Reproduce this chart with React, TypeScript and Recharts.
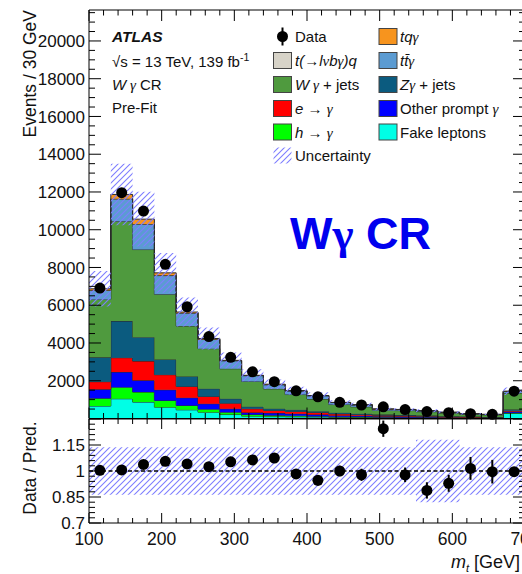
import React from 'react';
import { ComposedChart, Area, Scatter, XAxis, YAxis, ErrorBar, ReferenceLine } from 'recharts';

// bin edges of m_t [GeV], 30 GeV wide, last bin includes overflow
const binEdges = [100, 130, 160, 190, 220, 250, 280, 310, 340, 370, 400, 430, 460, 490, 520, 550, 580, 610, 640, 670, 700];

// pre-fit predictions per bin (events / 30 GeV), bottom of stack first
const fakeLeptons = [660, 1045, 870, 600, 460, 335, 210, 125, 100, 90, 80, 60, 50, 40, 35, 30, 25, 20, 18, 270];
const hToGamma = [410, 615, 530, 355, 230, 160, 125, 85, 70, 50, 40, 35, 30, 25, 20, 20, 15, 12, 10, 25];
const otherPrompt = [475, 800, 620, 565, 410, 285, 180, 110, 120, 110, 90, 70, 60, 50, 45, 35, 30, 25, 20, 60];
const eToGamma = [405, 760, 1020, 800, 600, 390, 295, 195, 140, 125, 110, 80, 65, 55, 45, 40, 30, 25, 20, 50];
const zGammaJets = [1290, 1940, 1270, 810, 530, 405, 235, 110, 90, 85, 70, 60, 45, 40, 35, 30, 25, 20, 18, 70];
const wGammaJets = [3070, 5290, 4640, 3450, 2670, 2125, 1590, 1335, 1050, 810, 640, 435, 370, 220, 240, 205, 165, 123, 109, 875];
const ttGamma = [480, 1170, 1340, 990, 680, 490, 425, 310, 220, 190, 175, 105, 100, 65, 55, 45, 35, 25, 20, 80];
const tLvbgQ = [10, 20, 20, 15, 10, 8, 5, 4, 3, 3, 2, 2, 2, 1, 1, 1, 1, 1, 1, 3];
const tqGamma = [70, 230, 250, 130, 50, 40, 15, 15, 25, 17, 12, 8, 8, 4, 4, 4, 4, 2, 2, 15];

const dataEvents = [6910, 11960, 10990, 8170, 5920, 4340, 3240, 2470, 1950, 1465, 1150, 855, 715, 620, 475, 365, 305, 255, 220, 1445];
const ratioValues = [1.004, 1.006, 1.038, 1.056, 1.041, 1.025, 1.053, 1.064, 1.075, 0.983, 0.946, 1.0, 0.978, 1.244, 0.978, 0.888, 0.929, 1.015, 0.996, 0.996];
const ratioErrors = [0.012, 0.01, 0.01, 0.012, 0.014, 0.016, 0.018, 0.021, 0.024, 0.027, 0.03, 0.03, 0.035, 0.047, 0.042, 0.047, 0.049, 0.066, 0.068, 0.027];
const relUncertainty = [0.137, 0.137, 0.137, 0.137, 0.137, 0.137, 0.137, 0.137, 0.137, 0.137, 0.137, 0.137, 0.137, 0.137, 0.137, 0.18, 0.18, 0.137, 0.137, 0.137];

const CHART_W = 560;
const PLOT_LEFT = 89;
const PLOT_W = 436;
const Y_AXIS_W = 60;
const MAIN_H = 420;
const MAIN_TOP = 10;
const MAIN_PLOT_H = 408.5;
const RATIO_H = 155;
const RATIO_PLOT_H = 104;
const Y_MAX = 21640;

const xTicks: number[] = [];
for (let v = 100; v <= 700; v += 20) xTicks.push(v);
const yTicks: number[] = [];
for (let v = 0; v <= 21500; v += 500) yTicks.push(v);
const ratioTicks: number[] = [];
for (let i = 0; i <= 20; i++) ratioTicks.push(Number((0.7 + i * 0.03).toFixed(2)));

const nBins = binEdges.length - 1;
const stackRows = binEdges.map((edge, i) => {
  const b = Math.min(i, nBins - 1);
  const total =
    fakeLeptons[b] + hToGamma[b] + otherPrompt[b] + eToGamma[b] + zGammaJets[b] +
    wGammaJets[b] + ttGamma[b] + tLvbgQ[b] + tqGamma[b];
  const u = relUncertainty[b];
  return {
    x: edge,
    fake: fakeLeptons[b],
    hgam: hToGamma[b],
    other: otherPrompt[b],
    egam: eToGamma[b],
    zgam: zGammaJets[b],
    wgam: wGammaJets[b],
    ttgam: ttGamma[b],
    tlvbgq: tLvbgQ[b],
    tqgam: tqGamma[b],
    band: [total * (1 - u), total * (1 + u)],
    ratioBand: [1 - u, 1 + u],
  };
});

const dataPoints = dataEvents.map((v, i) => ({ x: (binEdges[i] + binEdges[i + 1]) / 2, y: v }));
const ratioPoints = ratioValues.map((r, i) => ({ x: (binEdges[i] + binEdges[i + 1]) / 2, y: r, err: ratioErrors[i] }));

const stack = [
  { key: 'fake', color: '#00ffe6' },
  { key: 'hgam', color: '#00ff00' },
  { key: 'other', color: '#0000ff' },
  { key: 'egam', color: '#ff0000' },
  { key: 'zgam', color: '#0b5b7f' },
  { key: 'wgam', color: '#4f9a3e' },
  { key: 'ttgam', color: '#5b9bd2' },
  { key: 'tlvbgq', color: '#d7d3c8' },
  { key: 'tqgam', color: '#f7941e' },
];

const FONT = '"Liberation Sans", Arial, sans-serif';
const GREEK = '"Liberation Serif", "DejaVu Serif", serif';

const hatch = (id: string) => (
  <pattern id={id} patternUnits="userSpaceOnUse" width={6} height={6}>
    <path d="M0,6 L6,0 M-1,1 L1,-1 M5,7 L7,5" stroke="#7d7dff" strokeWidth={1.1} />
  </pattern>
);

const DataDot = (props: any) => <circle cx={props.cx} cy={props.cy} r={5.5} fill="#000" />;

const MainXTick = (props: any) => {
  const { x, y, payload } = props;
  const len = payload.value % 100 === 0 ? 11 : 5.5;
  const top = y - MAIN_PLOT_H;
  return (
    <g>
      <line x1={x} x2={x} y1={y} y2={y - len} stroke="#000" />
      <line x1={x} x2={x} y1={top} y2={top + len} stroke="#000" />
    </g>
  );
};

const MainYTick = (props: any) => {
  const { x, y, payload } = props;
  const v = payload.value;
  const major = v % 2000 === 0;
  const len = major ? 12 : 6;
  const right = x + PLOT_W;
  return (
    <g>
      <line x1={x} x2={x + len} y1={y} y2={y} stroke="#000" />
      <line x1={right - len} x2={right} y1={y} y2={y} stroke="#000" />
      {major && v > 0 && (
        <text x={x - 4} y={y} dy="0.36em" textAnchor="end" fontSize={17} fontFamily={FONT} fill="#111">
          {v}
        </text>
      )}
    </g>
  );
};

const RatioXTick = (props: any) => {
  const { x, y, payload } = props;
  const major = payload.value % 100 === 0;
  const len = major ? 10 : 5;
  const top = y - RATIO_PLOT_H;
  return (
    <g>
      <line x1={x} x2={x} y1={y} y2={y - len} stroke="#000" />
      <line x1={x} x2={x} y1={top} y2={top + len} stroke="#000" />
      {major && (
        <text x={x} y={y + 22} textAnchor="middle" fontSize={17.5} fontFamily={FONT} fill="#111">
          {payload.value}
        </text>
      )}
    </g>
  );
};

const RatioYTick = (props: any) => {
  const { x, y, payload } = props;
  const v = payload.value;
  const steps = (v - 0.7) / 0.15;
  const major = Math.abs(steps - Math.round(steps)) < 1e-6;
  const len = major ? 12 : 6;
  const right = x + PLOT_W;
  return (
    <g>
      <line x1={x} x2={x + len} y1={y} y2={y} stroke="#000" />
      <line x1={right - len} x2={right} y1={y} y2={y} stroke="#000" />
      {major && v < 1.29 && (
        <text x={x - 4} y={y} dy="0.36em" textAnchor="end" fontSize={17} fontFamily={FONT} fill="#111">
          {Number(v.toFixed(2)).toString()}
        </text>
      )}
    </g>
  );
};

const legendRows = [42, 66, 90, 114, 137.5, 161];
const it = { fontStyle: 'italic' as const };
const gr = { fontStyle: 'italic' as const, fontFamily: GREEK };

const legendLeft: { label: React.ReactNode; color?: string; kind?: string }[] = [
  { label: 'Data', kind: 'data' },
  { label: <><tspan style={it}>t(→l</tspan><tspan style={gr}>ν</tspan><tspan style={it}>b</tspan><tspan style={gr}>γ</tspan><tspan style={it}>)q</tspan></>, color: '#d7d3c8' },
  { label: <><tspan style={it}>W</tspan><tspan style={gr}> γ</tspan> + jets</>, color: '#4f9a3e' },
  { label: <><tspan style={it}>e</tspan> → <tspan style={gr}>γ</tspan></>, color: '#ff0000' },
  { label: <><tspan style={it}>h</tspan> → <tspan style={gr}>γ</tspan></>, color: '#00ff00' },
  { label: 'Uncertainty', kind: 'hatch' },
];

const legendRight: { label: React.ReactNode; color: string }[] = [
  { label: <><tspan style={it}>tq</tspan><tspan style={gr}>γ</tspan></>, color: '#f7941e' },
  { label: <><tspan style={it}>tt̄</tspan><tspan style={gr}>γ</tspan></>, color: '#5b9bd2' },
  { label: <><tspan style={it}>Z</tspan><tspan style={gr}>γ</tspan> + jets</>, color: '#0b5b7f' },
  { label: <>Other prompt <tspan style={gr}>γ</tspan></>, color: '#0000ff' },
  { label: 'Fake leptons', color: '#00ffe6' },
];

function Overlay() {
  return (
    <svg width={522} height={574} style={{ position: 'absolute', left: 0, top: 0, pointerEvents: 'none' }} fontFamily={FONT}>
      <defs>{hatch('hatchLegend')}</defs>
      <g fontSize={15} fill="#111">
        <text x={112} y={42} fontWeight="bold" fontStyle="italic" fontSize={15.5}>ATLAS</text>
        <text x={112} y={67}>
          √s = 13 TeV, 139 fb<tspan dy={-6} fontSize={10.5}>-1</tspan>
        </text>
        <text x={112} y={90}><tspan style={it}>W</tspan><tspan style={gr}> γ</tspan> CR</text>
        <text x={112} y={113}>Pre-Fit</text>
      </g>

      {legendLeft.map((e, i) => {
        const yc = legendRows[i] - 5.5;
        return (
          <g key={'l' + i}>
            {e.kind === 'data' && (
              <>
                <line x1={282.5} x2={282.5} y1={yc - 9} y2={yc + 9} stroke="#000" strokeWidth={2} />
                <circle cx={282.5} cy={yc} r={5.5} fill="#000" />
              </>
            )}
            {e.kind === 'hatch' && <rect x={273.5} y={yc - 8} width={18} height={16} fill="url(#hatchLegend)" />}
            {e.color && <rect x={273.5} y={yc - 8} width={18} height={16} fill={e.color} stroke="#444" strokeWidth={1} />}
            <text x={295} y={legendRows[i]} fontSize={15} fill="#111">{e.label}</text>
          </g>
        );
      })}
      {legendRight.map((e, i) => {
        const yc = legendRows[i] - 5.5;
        return (
          <g key={'r' + i}>
            <rect x={379} y={yc - 8} width={18} height={16} fill={e.color} stroke="#444" strokeWidth={1} />
            <text x={400} y={legendRows[i]} fontSize={15} fill="#111">{e.label}</text>
          </g>
        );
      })}

      <text x={290} y={249} fontSize={45} fontWeight="bold" fill="#0000ee">
        W<tspan fontFamily={GREEK}>γ</tspan> CR
      </text>

      <text transform="translate(35.5,10) rotate(-90)" textAnchor="end" fontSize={17.5} fill="#111">Events / 30 GeV</text>
      <text transform="translate(35.5,468) rotate(-90)" textAnchor="middle" fontSize={17.5} fill="#111">Data / Pred.</text>
      <text x={520} y={568} textAnchor="end" fontSize={18} fill="#111">
        <tspan style={it}>m</tspan>
        <tspan fontSize={11} dy={4} style={it}>t</tspan>
        <tspan dy={-4}> [GeV]</tspan>
      </text>
    </svg>
  );
}

export default function App() {
  const right = CHART_W - PLOT_LEFT - PLOT_W;
  return (
    <div style={{ position: 'absolute', left: 0, top: 0, width: 522, height: 574, overflow: 'hidden', background: '#fff', fontFamily: FONT }}>
      <div style={{ position: 'absolute', left: 0, top: 0 }}>
        <ComposedChart width={CHART_W} height={MAIN_H} data={stackRows} margin={{ top: MAIN_TOP, right, bottom: 0, left: PLOT_LEFT - Y_AXIS_W }}>
          <defs>{hatch('hatchMain')}</defs>
          <XAxis dataKey="x" type="number" domain={[100, 700]} ticks={xTicks} interval={0} height={MAIN_H - MAIN_TOP - MAIN_PLOT_H} tickSize={0} tickMargin={0} tickLine={false} axisLine={{ stroke: '#000' }} tick={(p: any) => <MainXTick {...p} />} />
          <YAxis type="number" domain={[0, Y_MAX]} ticks={yTicks} interval={0} width={Y_AXIS_W} tickSize={0} tickMargin={0} tickLine={false} axisLine={{ stroke: '#000' }} tick={(p: any) => <MainYTick {...p} />} />
          {stack.map((s) => (
            <Area key={s.key} dataKey={s.key} stackId="mc" type="stepAfter" fill={s.color} fillOpacity={1} stroke="#2a2a2a" strokeWidth={1} dot={false} activeDot={false} isAnimationActive={false} />
          ))}
          <Area dataKey="band" type="stepAfter" fill="url(#hatchMain)" fillOpacity={1} stroke="none" dot={false} activeDot={false} isAnimationActive={false} />
          <ReferenceLine y={Y_MAX} stroke="#000" />
          <ReferenceLine x={700} stroke="#000" />
          <Scatter data={dataPoints} dataKey="y" shape={DataDot} isAnimationActive={false} />
        </ComposedChart>
      </div>
      <div style={{ position: 'absolute', left: 0, top: 419 }}>
        <ComposedChart width={CHART_W} height={RATIO_H} data={stackRows} margin={{ top: 0, right, bottom: 0, left: PLOT_LEFT - Y_AXIS_W }}>
          <defs>{hatch('hatchRatio')}</defs>
          <XAxis dataKey="x" type="number" domain={[100, 700]} ticks={xTicks} interval={0} height={RATIO_H - RATIO_PLOT_H} tickSize={0} tickMargin={0} tickLine={false} axisLine={{ stroke: '#000' }} tick={(p: any) => <RatioXTick {...p} />} />
          <YAxis type="number" domain={[0.7, 1.3]} ticks={ratioTicks} interval={0} width={Y_AXIS_W} tickSize={0} tickMargin={0} tickLine={false} axisLine={{ stroke: '#000' }} tick={(p: any) => <RatioYTick {...p} />} />
          <Area dataKey="ratioBand" type="stepAfter" fill="url(#hatchRatio)" fillOpacity={1} stroke="none" dot={false} activeDot={false} isAnimationActive={false} />
          <ReferenceLine y={1} stroke="#000" strokeWidth={1.5} strokeDasharray="4 2.5" />
          <ReferenceLine y={1.3} stroke="#000" />
          <ReferenceLine x={700} stroke="#000" />
          <Scatter data={ratioPoints} dataKey="y" shape={DataDot} isAnimationActive={false}>
            <ErrorBar dataKey="err" direction="y" width={0} stroke="#000" strokeWidth={2} />
          </Scatter>
        </ComposedChart>
      </div>
      <Overlay />
    </div>
  );
}
